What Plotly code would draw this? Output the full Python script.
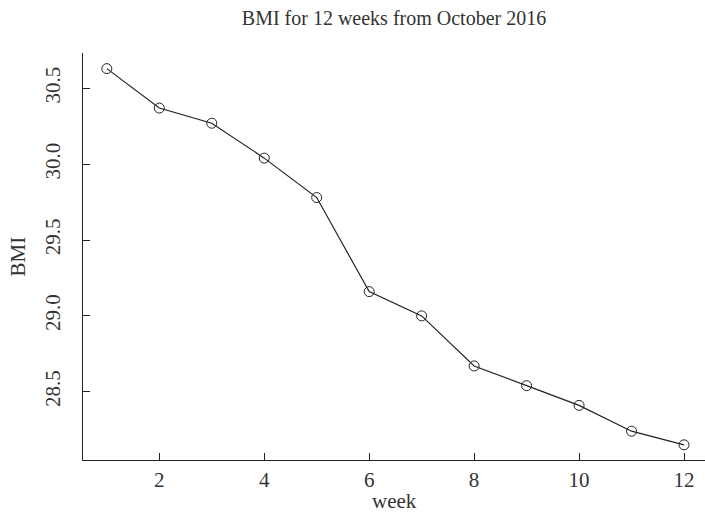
import plotly.graph_objects as go

# Weekly BMI readings, October 2016
weeks = [1, 2, 3, 4, 5, 6, 7, 8, 9, 10, 11, 12]
bmi = [30.63, 30.37, 30.27, 30.04, 29.78, 29.16, 29.00, 28.67, 28.54, 28.41, 28.24, 28.15]

x_ticks = [2, 4, 6, 8, 10, 12]
y_ticks = [28.5, 29.0, 29.5, 30.0, 30.5]

FONT = "Liberation Serif"
INK = "#222222"
TEXT = "#333333"

W, H = 705, 514
L, R, T, B = 83, 0, 53, 54
PLOT_H = H - T - B
PLOT_W = W - L - R

fig = go.Figure(
    go.Scatter(
        x=weeks,
        y=bmi,
        mode="lines+markers",
        line=dict(color=INK, width=1.2),
        marker=dict(symbol="circle-open", size=10, color=INK, line=dict(width=1)),
        showlegend=False,
    )
)

axis_common = dict(
    showline=True,
    linecolor=INK,
    linewidth=1.2,
    ticks="inside",
    ticklen=7,
    tickwidth=1,
    tickcolor=INK,
    showgrid=False,
    zeroline=False,
    automargin=False,
    tickfont=dict(family=FONT, size=21, color=TEXT),
)

fig.update_xaxes(
    **axis_common,
    range=[0.546, 12.4],
    tickvals=x_ticks,
    ticktext=[str(v) for v in x_ticks],
    ticklabelstandoff=1,
)
fig.update_yaxes(
    **axis_common,
    range=[28.05, 30.733],
    tickvals=y_ticks,
    ticktext=[f"{v:.1f}" for v in y_ticks],
    tickangle=-90,
    ticklabelstandoff=14,
)

# Axis titles placed in paper coordinates (pixel offsets from the plot area)
fig.add_annotation(
    text="week", xref="paper", yref="paper",
    x=0.5, y=-(501 - (H - B)) / PLOT_H,
    xanchor="center", yanchor="middle", showarrow=False,
    font=dict(family=FONT, size=21, color=TEXT),
)
fig.add_annotation(
    text="BMI", xref="paper", yref="paper",
    x=-(L - 17) / PLOT_W, y=0.5,
    xanchor="center", yanchor="middle", textangle=-90, showarrow=False,
    font=dict(family=FONT, size=21, color=TEXT),
)

fig.update_layout(
    width=W,
    height=H,
    margin=dict(l=L, r=R, t=T, b=B),
    paper_bgcolor="white",
    plot_bgcolor="white",
    title=dict(
        text="BMI for 12 weeks from October 2016",
        x=(L + W) / 2 / W,
        xanchor="center",
        y=1 - 18 / H,
        yanchor="middle",
        font=dict(family=FONT, size=20, color=TEXT),
    ),
)

fig.write_html("out.html")
